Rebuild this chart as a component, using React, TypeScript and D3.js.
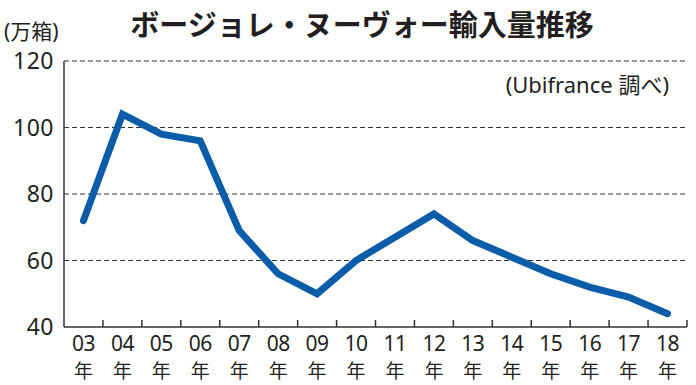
import React from "react";
import * as d3 from "d3";

// 輸入量（万箱）
const years = ["03", "04", "05", "06", "07", "08", "09", "10", "11", "12", "13", "14", "15", "16", "17", "18"];
const imports = [72, 104, 98, 96, 69, 56, 50, 60, 67, 74, 66, 61, 56, 52, 49, 44];
const yTicks = [40, 60, 80, 100, 120];

const W = 696;
const H = 385;
const margin = { top: 61, right: 9, bottom: 58, left: 64 };

export default function App() {
  const x = d3
    .scaleBand<string>()
    .domain(years)
    .range([margin.left, W - margin.right]);

  const y = d3
    .scaleLinear()
    .domain([40, 120])
    .range([H - margin.bottom, margin.top]);

  const line = d3
    .line<number>()
    .x((_, i) => (x(years[i]) as number) + x.bandwidth() / 2)
    .y((d) => y(d));

  const x0 = margin.left;
  const x1 = W - margin.right;
  const base = y(40);

  return (
    <svg
      width={W}
      height={H}
      style={{ position: "absolute", left: 0, top: 0, background: "#fff" }}
      fontFamily="'Noto Sans', 'Noto Sans CJK JP', sans-serif"
    >
      <text
        x={362}
        y={36}
        textAnchor="middle"
        fontSize={29}
        fontWeight="bold"
        fill="#231f20"
        fontFamily="'Noto Sans CJK JP', sans-serif"
      >
        ボージョレ・ヌーヴォー輸入量推移
      </text>
      <text x={4} y={39} fontSize={21} fill="#231f20">
        (万箱)
      </text>
      <text x={669} y={93} textAnchor="end" fontSize={22} fill="#231f20">
        (Ubifrance 調べ)
      </text>

      {/* dashed grid */}
      {yTicks
        .filter((t) => t > 40)
        .map((t) => (
          <line
            key={t}
            x1={x0}
            x2={x1}
            y1={y(t)}
            y2={y(t)}
            stroke="#333"
            strokeWidth={1.2}
            strokeDasharray="5 3"
          />
        ))}

      {/* y labels */}
      {yTicks.map((t) => (
        <text key={t} x={54} y={y(t) + 8} textAnchor="end" fontSize={23} letterSpacing={0.5} fill="#231f20">
          {t}
        </text>
      ))}

      {/* axes */}
      <line x1={x0} x2={x0} y1={y(120)} y2={base} stroke="#333" strokeWidth={1.5} />
      <line x1={x0} x2={x1} y1={base} y2={base} stroke="#333" strokeWidth={1.5} />
      {years.map((yr) => {
        const bx = (x(yr) as number) + x.bandwidth();
        return <line key={yr} x1={bx} x2={bx} y1={base} y2={base - 7} stroke="#333" strokeWidth={1.5} />;
      })}

      {/* x labels: year on one line, 年 below */}
      {years.map((yr) => {
        const cx = (x(yr) as number) + x.bandwidth() / 2;
        return (
          <g key={yr}>
            <text x={cx} y={351} textAnchor="middle" fontSize={21} letterSpacing={-0.5} fill="#231f20">
              {yr}
            </text>
            <text x={cx} y={378} textAnchor="middle" fontSize={19} fill="#231f20" fontFamily="'Noto Sans CJK JP', sans-serif">
              年
            </text>
          </g>
        );
      })}

      <path
        d={line(imports) ?? ""}
        fill="none"
        stroke="#0b5ca9"
        strokeWidth={7}
        strokeLinejoin="miter"
        strokeLinecap="round"
      />
    </svg>
  );
}
